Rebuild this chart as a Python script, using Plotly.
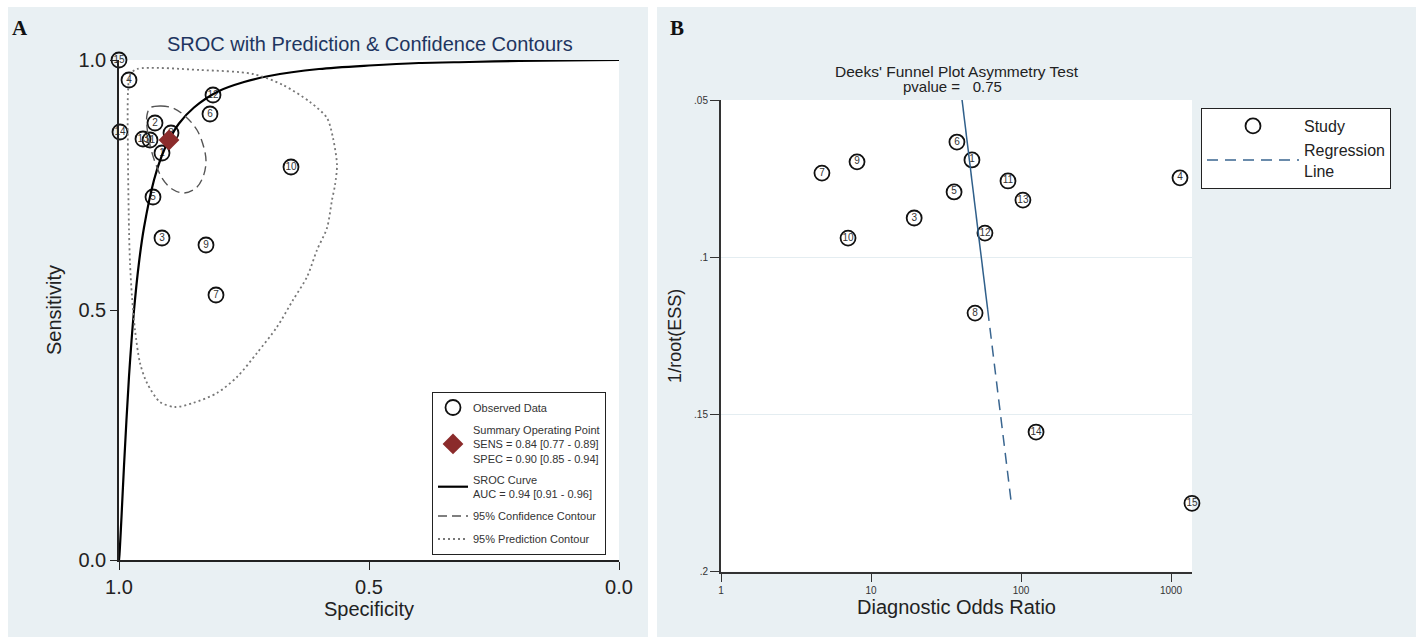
import plotly.graph_objects as go

W, H = 1416, 641

# ---------------- Panel A data (SROC) ----------------
study_ids = [str(i) for i in range(1, 16)]
a_spec = [0.914, 0.928, 0.914, 0.980, 0.932, 0.818, 0.806, 0.896, 0.826, 0.656,
          0.938, 0.812, 0.952, 0.998, 1.000]
a_sens = [0.814, 0.874, 0.644, 0.960, 0.726, 0.892, 0.530, 0.854, 0.630, 0.786,
          0.840, 0.930, 0.842, 0.856, 1.000]

summary_spec = [0.90]
summary_sens = [0.84]

sroc_spec = [1.0, 0.999, 0.998, 0.995, 0.99, 0.98, 0.97, 0.96, 0.95, 0.93, 0.915, 0.90,
             0.88, 0.85, 0.80, 0.75, 0.70, 0.60, 0.50, 0.40, 0.30, 0.20, 0.10, 0.0]
sroc_sens = [0.0, 0.011, 0.028, 0.086, 0.188, 0.367, 0.499, 0.595, 0.665, 0.760, 0.807, 0.840,
             0.873, 0.905, 0.938, 0.956, 0.968, 0.982, 0.989, 0.994, 0.996, 0.998, 0.999, 1.0]

conf_spec = [0.938, 0.918, 0.892, 0.868, 0.844, 0.830, 0.826, 0.832, 0.846, 0.870,
             0.894, 0.914, 0.928, 0.938, 0.944, 0.944, 0.938]
conf_sens = [0.904, 0.908, 0.904, 0.888, 0.860, 0.824, 0.796, 0.766, 0.744, 0.734,
             0.742, 0.764, 0.796, 0.830, 0.866, 0.890, 0.904]

pred_spec = [0.978, 0.964, 0.838, 0.732, 0.672, 0.618, 0.584, 0.572, 0.564, 0.568,
             0.574, 0.584, 0.604, 0.624, 0.652, 0.684, 0.724, 0.764, 0.804, 0.852,
             0.888, 0.918, 0.944, 0.958, 0.968, 0.974, 0.978, 0.980, 0.982, 0.982, 0.978]
pred_sens = [0.970, 0.982, 0.980, 0.972, 0.950, 0.916, 0.884, 0.844, 0.790, 0.750,
             0.720, 0.664, 0.620, 0.566, 0.520, 0.466, 0.414, 0.366, 0.334, 0.314,
             0.306, 0.316, 0.354, 0.394, 0.460, 0.526, 0.594, 0.660, 0.800, 0.936, 0.970]

a_ticks = [0.0, 0.5, 1.0]
a_ticktext = ["0.0", "0.5", "1.0"]

# ---------------- Panel B data (Deeks) ----------------
b_dor = [47.1, 89.8, 19.4, 1148, 35.8, 37.4, 4.71, 49.4, 8.07, 7.03,
         81.9, 57.5, 103, 126, 1380]
b_inv_root_ess = [0.0688, 0.0494, 0.0873, 0.0745, 0.0790, 0.0631, 0.0730, 0.1176, 0.0694, 0.0937,
                  0.0755, 0.0921, 0.0816, 0.1555, 0.1782]
reg_intercept = 1.480   # log10(DOR) at 1/root(ESS)=0
reg_slope = 2.557
reg_solid_end = 0.1166

b_xticks = [1, 10, 100, 1000]
b_xticktext = ["1", "10", "100", "1000"]
b_yticks = [0.05, 0.10, 0.15, 0.20]
b_yticktext = [".05", ".1", ".15", ".2"]

FONT = "Liberation Sans, Arial, sans-serif"
PANEL_BG = "#e9f0f3"


def px_x(p):
    return p / W


def px_y(p):
    return 1 - p / H


fig = go.Figure()

# ---- Panel A traces ----
fig.add_trace(go.Scatter(
    x=a_spec, y=a_sens, mode="markers", name="Observed Data",
    marker=dict(symbol="circle-open", size=15, color="#111", line=dict(width=1.8)),
    xaxis="x", yaxis="y", legend="legend", legendrank=1, legendgroup="g1",
    cliponaxis=False, hoverinfo="skip"))
fig.add_trace(go.Scatter(
    x=a_spec, y=a_sens, mode="text", text=study_ids, showlegend=False,
    textfont=dict(family=FONT, size=10, color="#333"),
    xaxis="x", yaxis="y", cliponaxis=False, hoverinfo="skip"))
fig.add_trace(go.Scatter(
    x=sroc_spec, y=sroc_sens, mode="lines", name="SROC Curve<br>AUC = 0.94 [0.91 - 0.96]",
    line=dict(color="#000", width=2.2, shape="spline", smoothing=0.8),
    xaxis="x", yaxis="y", legend="legend", legendrank=3, legendgroup="g3",
    hoverinfo="skip"))
fig.add_trace(go.Scatter(
    x=conf_spec, y=conf_sens, mode="lines", name="95% Confidence Contour",
    line=dict(color="#555", width=1.4, dash="9px,5px", shape="spline", smoothing=1),
    xaxis="x", yaxis="y", legend="legend", legendrank=4, legendgroup="g4",
    hoverinfo="skip"))
fig.add_trace(go.Scatter(
    x=pred_spec, y=pred_sens, mode="lines", name="95% Prediction Contour",
    line=dict(color="#777", width=1.8, dash="2px,3px", shape="spline", smoothing=0.8),
    xaxis="x", yaxis="y", legend="legend", legendrank=5, legendgroup="g5",
    hoverinfo="skip"))
fig.add_trace(go.Scatter(
    x=summary_spec, y=summary_sens, mode="markers",
    name="Summary Operating Point<br>SENS = 0.84 [0.77 - 0.89]<br>SPEC = 0.90 [0.85 - 0.94]",
    marker=dict(symbol="diamond", size=16, color="#8b2b2b"),
    xaxis="x", yaxis="y", legend="legend", legendrank=2, legendgroup="g2",
    hoverinfo="skip"))

# ---- Panel B traces ----
fig.add_trace(go.Scatter(
    x=b_dor, y=b_inv_root_ess, mode="markers", name="Study",
    marker=dict(symbol="circle-open", size=15, color="#111", line=dict(width=1.8)),
    xaxis="x2", yaxis="y2", legend="legend2", legendrank=1, cliponaxis=False,
    hoverinfo="skip"))
fig.add_trace(go.Scatter(
    x=b_dor, y=b_inv_root_ess, mode="text", text=study_ids, showlegend=False,
    textfont=dict(family=FONT, size=10, color="#333"),
    xaxis="x2", yaxis="y2", cliponaxis=False, hoverinfo="skip"))

y_lo = min(b_inv_root_ess)
y_hi = max(b_inv_root_ess)
reg_y_solid = [y_lo, reg_solid_end]
reg_y_dash = [reg_solid_end, y_hi]
reg_x_solid = [10 ** (reg_intercept + reg_slope * v) for v in reg_y_solid]
reg_x_dash = [10 ** (reg_intercept + reg_slope * v) for v in reg_y_dash]
fig.add_trace(go.Scatter(
    x=reg_x_solid, y=reg_y_solid, mode="lines", showlegend=False,
    line=dict(color="#2f5f8a", width=1.5), xaxis="x2", yaxis="y2",
    cliponaxis=False, hoverinfo="skip"))
fig.add_trace(go.Scatter(
    x=reg_x_dash, y=reg_y_dash, mode="lines", name="Regression<br>Line",
    line=dict(color="#3a6690", width=1.5, dash="11px,7px"), xaxis="x2", yaxis="y2",
    legend="legend2", legendrank=2, cliponaxis=False, hoverinfo="skip"))

# ---- domains ----
ax_dom_x = [px_x(119), px_x(619)]
ax_dom_y = [px_y(560), px_y(60)]
bx_dom_x = [px_x(721), px_x(1192)]
bx_dom_y = [px_y(571.7), px_y(100)]

shapes = [
    dict(type="rect", xref="paper", yref="paper", x0=px_x(8), x1=px_x(648),
         y0=px_y(637), y1=px_y(7), fillcolor=PANEL_BG, line=dict(width=0), layer="below"),
    dict(type="rect", xref="paper", yref="paper", x0=px_x(657), x1=1.0,
         y0=px_y(637), y1=px_y(7), fillcolor=PANEL_BG, line=dict(width=0), layer="below"),
    dict(type="rect", xref="paper", yref="paper", x0=ax_dom_x[0], x1=ax_dom_x[1],
         y0=ax_dom_y[0], y1=ax_dom_y[1], fillcolor="white", line=dict(width=0), layer="below"),
    dict(type="rect", xref="paper", yref="paper", x0=bx_dom_x[0], x1=bx_dom_x[1],
         y0=bx_dom_y[0], y1=bx_dom_y[1], fillcolor="white", line=dict(width=0), layer="below"),
]


def ann(text, x, y, size, color="#222", family=FONT):
    return dict(text=text, x=px_x(x), y=px_y(y), xref="paper", yref="paper",
                xanchor="center", yanchor="middle", showarrow=False,
                font=dict(family=family, size=size, color=color))


annotations = [
    ann("<b>A</b>", 20, 28, 21, "#111", "Liberation Serif, serif"),
    ann("<b>B</b>", 677, 28, 21, "#111", "Liberation Serif, serif"),
    ann("SROC with Prediction & Confidence Contours", 370, 44, 20, "#1e3560"),
    ann("Deeks' Funnel Plot Asymmetry Test", 957, 72, 15.5),
    ann("pvalue =\u00a0\u00a0\u00a00.75", 953, 86, 15),
]

fig.update_layout(
    width=W, height=H, margin=dict(l=0, r=0, t=0, b=0),
    paper_bgcolor="white", plot_bgcolor="rgba(0,0,0,0)",
    font=dict(family=FONT, color="#222"),
    shapes=shapes, annotations=annotations,
    xaxis=dict(domain=ax_dom_x, range=[1, 0], tickvals=a_ticks, ticktext=a_ticktext,
               ticks="outside", ticklen=8, tickwidth=1.2, tickcolor="#222",
               showline=True, linecolor="#222", linewidth=1.5, showgrid=False, zeroline=False,
               tickfont=dict(size=20, color="#222"), anchor="y",
               title=dict(text="Specificity", font=dict(size=20, color="#222"), standoff=2),
               automargin=False),
    yaxis=dict(domain=ax_dom_y, range=[0, 1], tickvals=a_ticks, ticktext=a_ticktext,
               ticks="outside", ticklen=7, tickwidth=1.2, tickcolor="#222",
               showline=True, linecolor="#222", linewidth=1.5, showgrid=False, zeroline=False,
               tickfont=dict(size=20, color="#222"), anchor="x",
               title=dict(text="Sensitivity", font=dict(size=20, color="#222"), standoff=11),
               automargin=False),
    xaxis2=dict(domain=bx_dom_x, type="log", range=[0, 3.14], tickvals=b_xticks,
                ticktext=b_xticktext, ticks="outside", ticklen=8, tickwidth=1.2,
                tickcolor="#333", showline=True, linecolor="#333", linewidth=2,
                showgrid=False, zeroline=False, tickfont=dict(size=10, color="#333"),
                anchor="y2",
                title=dict(text="Diagnostic Odds Ratio", font=dict(size=20, color="#222"), standoff=4),
                automargin=False),
    yaxis2=dict(domain=bx_dom_y, range=[0.2, 0.0497], tickvals=b_yticks,
                ticktext=b_yticktext, ticks="outside", ticklen=9, tickwidth=1.2,
                tickcolor="#333", showline=True, linecolor="#333", linewidth=2,
                showgrid=True, gridcolor="#e4edf1", gridwidth=1.2, zeroline=False,
                tickfont=dict(size=10, color="#333"), anchor="x2",
                title=dict(text="1/root(ESS)", font=dict(size=18, color="#222"), standoff=8),
                automargin=False),
    legend=dict(x=px_x(432), y=px_y(392), xanchor="left", yanchor="top",
                bgcolor="white", bordercolor="#222", borderwidth=1,
                font=dict(family=FONT, size=11, color="#333"), itemwidth=30,
                tracegroupgap=4),
    legend2=dict(x=px_x(1201), y=px_y(108), xanchor="left", yanchor="top",
                 bgcolor="white", bordercolor="#222", borderwidth=1,
                 font=dict(family=FONT, size=16, color="#222"), itemwidth=92),
)

fig.write_html("out.html")
